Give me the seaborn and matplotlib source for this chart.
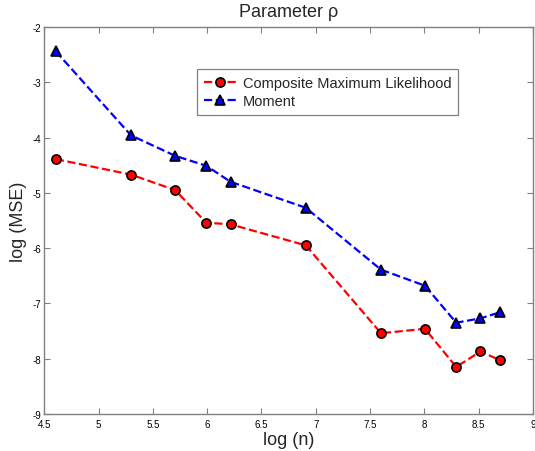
import matplotlib
matplotlib.use("Agg")
import matplotlib.pyplot as plt
import numpy as np
import pandas as pd
import seaborn as sns

# sample sizes (log scale) and log mean squared error of each estimator
log_n = [4.605, 5.298, 5.704, 5.991, 6.215, 6.908, 7.601, 8.006, 8.294, 8.517, 8.700]
cml_mse = [-4.39, -4.67, -4.95, -5.54, -5.57, -5.95, -7.54, -7.46, -8.15, -7.87, -8.03]
moment_mse = [-2.44, -3.96, -4.33, -4.51, -4.80, -5.27, -6.39, -6.68, -7.35, -7.27, -7.16]
series_names = ["Composite Maximum Likelihood", "Moment"]

x_ticks = [4.5, 5, 5.5, 6, 6.5, 7, 7.5, 8, 8.5, 9]
x_tick_labels = ["4.5", "5", "5.5", "6", "6.5", "7", "7.5", "8", "8.5", "9"]
y_ticks = [-9, -8, -7, -6, -5, -4, -3, -2]

sns.set_theme(style="white")
plt.rcParams["font.family"] = ["Liberation Sans", "DejaVu Sans"]

fig = plt.figure(figsize=(5.35, 4.52), dpi=100)
ax = fig.add_axes([0.083, 0.082, 0.913, 0.856])

df_cml = pd.DataFrame({"x": log_n, "y": cml_mse})
df_mom = pd.DataFrame({"x": log_n, "y": moment_mse})

sns.lineplot(data=df_cml, x="x", y="y", ax=ax, color="red", linestyle="--",
             linewidth=1.6, marker="o", markersize=6.6, markerfacecolor="red",
             markeredgecolor="black", markeredgewidth=1.2, label=series_names[0])
sns.lineplot(data=df_mom, x="x", y="y", ax=ax, color="blue", linestyle="--",
             linewidth=1.6, marker="^", markersize=7.2, markerfacecolor="blue",
             markeredgecolor="black", markeredgewidth=1.2, label=series_names[1])

ax.set_xlim(4.5, 9)
ax.set_ylim(-9, -2)
ax.set_xticks(x_ticks)
ax.set_xticklabels(x_tick_labels)
ax.set_yticks(y_ticks)
ax.set_yticklabels([str(v) for v in y_ticks])

for s in ax.spines.values():
    s.set_color("#808080")
    s.set_linewidth(1.0)
    s.set_visible(True)

ax.tick_params(axis="both", which="both", direction="in", length=4, width=0.8,
               color="#808080", labelsize=7, labelcolor="black",
               top=True, right=True, bottom=True, left=True)
ax.tick_params(axis="x", pad=4)
ax.tick_params(axis="y", pad=2)

ax.set_xlabel("log (n)", fontsize=13, labelpad=1)
ax.set_ylabel("log (MSE)", fontsize=13, labelpad=4)
ax.set_title("Parameter ρ", fontsize=13, pad=8)

leg = ax.legend(loc="upper left", bbox_to_anchor=(0.313, 0.891), fontsize=10.5,
                frameon=True, fancybox=False, framealpha=1, edgecolor="#808080",
                borderpad=0.45, labelspacing=0.3, handlelength=2.2,
                handletextpad=0.5, borderaxespad=0)
leg.get_frame().set_linewidth(0.9)

fig.savefig("out.png", dpi=100)
